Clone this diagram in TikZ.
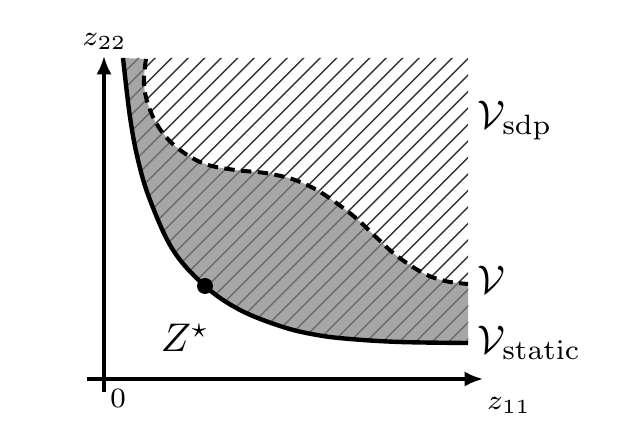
\documentclass[tikz,border=0pt]{standalone}
\usetikzlibrary{arrows.meta}
\tikzset{
  axisline/.style={line width=0.8pt,-{Latex[length=4.6pt,width=3.8pt]}},
  staticcurve/.style={line width=1.1pt},
  vcurve/.style={line width=1pt,dash pattern=on 2.6pt off 1.6pt},
  hatchline/.style={line width=0.36pt},
  lbl/.style={inner sep=0pt,anchor=base west},
  axlbl/.style={inner sep=0pt,font=\fontsize{7.5}{9}\selectfont},
}
\newcommand{\staticpts}{(123,58) (130,117) (138,160) (150,200) (173,250) (205,286) (240,310) (283,327) (317,335) (350,339) (400,342) (468,343)}
\newcommand{\vpts}{(146,59) (144,85) (150,110) (162,132) (180,150) (205,164) (235,170) (265,173) (292,179) (315,189) (335,202) (357,219) (377,238) (397,256) (423,273) (445,281) (468,284)}
\newcommand{\vptsrev}{(468,284) (445,281) (423,273) (397,256) (377,238) (357,219) (335,202) (315,189) (292,179) (265,173) (235,170) (205,164) (180,150) (162,132) (150,110) (144,85) (146,59)}
\newcommand{\hatchall}[1]{%
  \foreach \k in {8,...,52}{%
    \pgfmathsetmacro{\c}{15.2+16.5*\k}%
    \draw[hatchline,#1] (\c-400,400) -- (\c,0);
  }}
\begin{document}
\begin{tikzpicture}[x=0.25pt,y=-0.25pt]
\useasboundingbox (0,0) rectangle (631,446);
% hatched region V_sdp
\begin{scope}
  \clip plot[smooth,tension=0.6] coordinates {\staticpts} -- (468,58) -- cycle;
  \hatchall{black!80}
\end{scope}
% gray region V
\begin{scope}
  \clip plot[smooth,tension=0.6] coordinates {\staticpts} -- plot[smooth,tension=0.6] coordinates {\vptsrev} -- cycle;
  \fill[black!35] (0,0) rectangle (631,446);
  \hatchall{black!58}
\end{scope}
% curves
\draw[staticcurve] plot[smooth,tension=0.6] coordinates {\staticpts};
\draw[vcurve] plot[smooth,tension=0.6] coordinates {\vpts};
% axes
\coordinate (ybot) at (104,392);
\coordinate (ytop) at (104,56);
\coordinate (xleft) at (87,379);
\coordinate (xright) at (483,379);
\draw[axisline] (ybot) -- (ytop);
\draw[axisline] (xleft) -- (xright);
\node[axlbl] (z22) at (104.5,41) {$z_{22}$};
\node[axlbl] (z11) at (509,405) {$z_{11}$};
\node[inner sep=0pt,font=\fontsize{7}{8}\selectfont] (zero) at (118,398) {0};
% optimum
\fill (205,286) circle (2pt) coordinate (zstar);
\node[lbl] (zs) at (160,352) {$Z^\star$};
\node[lbl] (vsdp) at (477,129) {$\mathcal{V}_{\mathrm{sdp}}$};
\node[lbl] (v) at (477,294) {$\mathcal{V}$};
\node[lbl] (vst) at (477,354) {$\mathcal{V}_{\mathrm{static}}$};
\end{tikzpicture}
\end{document}
